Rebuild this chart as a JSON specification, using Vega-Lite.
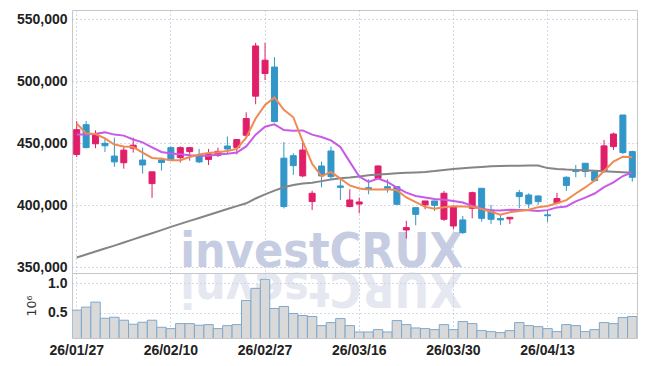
{
  "$schema": "https://vega.github.io/schema/vega-lite/v6.json",
  "background": "white",
  "padding": {"left": 15, "top": 9, "right": 9, "bottom": 4},
  "spacing": 0,
  "bounds": "flush",
  "config": {
    "view": {"stroke": "#c8c8c8"},
    "concat": {"spacing": 0},
    "axis": {
      "labelFont": "Liberation Sans",
      "labelFontSize": 14,
      "labelFontWeight": "bold",
      "labelColor": "#222222",
      "gridColor": "#aab3cc",
      "gridDash": [1, 3],
      "gridWidth": 1,
      "domain": false,
      "ticks": false
    }
  },
  "datasets": {
    "k": [
      {"d": "26/01/27", "o": 441000, "h": 468000, "l": 439000, "c": 461000, "m5": 466000, "m20": 457000, "m60": 357900, "v": 0.545},
      {"d": "26/01/28", "o": 465000, "h": 468000, "l": 446000, "c": 446500, "m5": 458000, "m20": 457000, "m60": 360300, "v": 0.597},
      {"d": "26/01/29", "o": 449600, "h": 460500, "l": 446000, "c": 457000, "m5": 457500, "m20": 457800, "m60": 362700, "v": 0.682},
      {"d": "26/01/30", "o": 450000, "h": 454500, "l": 443000, "c": 448000, "m5": 454000, "m20": 458800, "m60": 365100, "v": 0.409},
      {"d": "26/02/02", "o": 439700, "h": 454500, "l": 431000, "c": 435000, "m5": 449000, "m20": 457000, "m60": 367500, "v": 0.426},
      {"d": "26/02/03", "o": 434300, "h": 447000, "l": 429500, "c": 444500, "m5": 447500, "m20": 456200, "m60": 370000, "v": 0.375},
      {"d": "26/02/04", "o": 446000, "h": 454500, "l": 442500, "c": 448500, "m5": 447000, "m20": 453100, "m60": 372500, "v": 0.307},
      {"d": "26/02/05", "o": 436500, "h": 446500, "l": 425500, "c": 432500, "m5": 442500, "m20": 450800, "m60": 375000, "v": 0.341},
      {"d": "26/02/06", "o": 417500, "h": 427000, "l": 406000, "c": 427000, "m5": 438200, "m20": 446800, "m60": 377500, "v": 0.375},
      {"d": "26/02/09", "o": 436500, "h": 438500, "l": 428000, "c": 434500, "m5": 437500, "m20": 443000, "m60": 380000, "v": 0.256},
      {"d": "26/02/10", "o": 446500, "h": 447500, "l": 436000, "c": 437000, "m5": 436300, "m20": 441700, "m60": 382600, "v": 0.233},
      {"d": "26/02/11", "o": 438500, "h": 447500, "l": 434500, "c": 446500, "m5": 436300, "m20": 441100, "m60": 385000, "v": 0.318},
      {"d": "26/02/12", "o": 443300, "h": 446500, "l": 436000, "c": 446500, "m5": 439000, "m20": 440300, "m60": 387400, "v": 0.318},
      {"d": "26/02/13", "o": 440000, "h": 445500, "l": 434000, "c": 435000, "m5": 441000, "m20": 440000, "m60": 389800, "v": 0.290},
      {"d": "26/02/19", "o": 437000, "h": 445500, "l": 432500, "c": 441500, "m5": 442200, "m20": 440000, "m60": 392200, "v": 0.301},
      {"d": "26/02/20", "o": 440300, "h": 446500, "l": 439000, "c": 443500, "m5": 442700, "m20": 441000, "m60": 394600, "v": 0.233},
      {"d": "26/02/23", "o": 447800, "h": 455500, "l": 441500, "c": 445400, "m5": 443800, "m20": 441600, "m60": 397000, "v": 0.284},
      {"d": "26/02/24", "o": 446500, "h": 453500, "l": 441000, "c": 453000, "m5": 445500, "m20": 442500, "m60": 399300, "v": 0.301},
      {"d": "26/02/25", "o": 456500, "h": 475000, "l": 455000, "c": 470000, "m5": 454500, "m20": 447500, "m60": 401600, "v": 0.710},
      {"d": "26/02/26", "o": 488000, "h": 531000, "l": 481500, "c": 528500, "m5": 470000, "m20": 457000, "m60": 405500, "v": 0.915},
      {"d": "26/02/27", "o": 506300, "h": 531000, "l": 501000, "c": 517000, "m5": 481000, "m20": 463400, "m60": 408800, "v": 1.068},
      {"d": "26/03/03", "o": 511500, "h": 519500, "l": 467000, "c": 467500, "m5": 487000, "m20": 465300, "m60": 411800, "v": 0.574},
      {"d": "26/03/04", "o": 438000, "h": 451000, "l": 397500, "c": 399000, "m5": 477000, "m20": 460700, "m60": 414500, "v": 0.608},
      {"d": "26/03/05", "o": 440000, "h": 442000, "l": 424500, "c": 432000, "m5": 471000, "m20": 460200, "m60": 416300, "v": 0.489},
      {"d": "26/03/06", "o": 423700, "h": 451300, "l": 422600, "c": 444600, "m5": 451500, "m20": 460400, "m60": 417600, "v": 0.455},
      {"d": "26/03/09", "o": 403000, "h": 411800, "l": 396200, "c": 409700, "m5": 433500, "m20": 457000, "m60": 418200, "v": 0.438},
      {"d": "26/03/10", "o": 431700, "h": 435200, "l": 414500, "c": 423700, "m5": 423500, "m20": 455100, "m60": 419500, "v": 0.284},
      {"d": "26/03/11", "o": 443800, "h": 447300, "l": 420400, "c": 423100, "m5": 427000, "m20": 452400, "m60": 420800, "v": 0.335},
      {"d": "26/03/12", "o": 415600, "h": 422600, "l": 404300, "c": 414500, "m5": 421500, "m20": 447000, "m60": 421800, "v": 0.403},
      {"d": "26/03/13", "o": 399000, "h": 412900, "l": 398400, "c": 404300, "m5": 416000, "m20": 435000, "m60": 422400, "v": 0.284},
      {"d": "26/03/16", "o": 401000, "h": 406200, "l": 393500, "c": 402700, "m5": 413500, "m20": 423200, "m60": 423200, "v": 0.176},
      {"d": "26/03/17", "o": 414200, "h": 421000, "l": 408900, "c": 412900, "m5": 412800, "m20": 418800, "m60": 424200, "v": 0.176},
      {"d": "26/03/18", "o": 421500, "h": 432300, "l": 421000, "c": 431700, "m5": 412800, "m20": 421500, "m60": 424800, "v": 0.216},
      {"d": "26/03/19", "o": 415000, "h": 421000, "l": 410200, "c": 413700, "m5": 413000, "m20": 418800, "m60": 425300, "v": 0.176},
      {"d": "26/03/20", "o": 415000, "h": 415600, "l": 400800, "c": 400800, "m5": 412200, "m20": 414300, "m60": 425800, "v": 0.369},
      {"d": "26/03/23", "o": 380100, "h": 387400, "l": 373100, "c": 382000, "m5": 406300, "m20": 410200, "m60": 426200, "v": 0.301},
      {"d": "26/03/24", "o": 398100, "h": 398100, "l": 383900, "c": 392700, "m5": 402600, "m20": 407500, "m60": 426500, "v": 0.244},
      {"d": "26/03/25", "o": 400300, "h": 403500, "l": 396800, "c": 403500, "m5": 398700, "m20": 406200, "m60": 426900, "v": 0.233},
      {"d": "26/03/26", "o": 403500, "h": 403500, "l": 395400, "c": 400000, "m5": 397300, "m20": 405000, "m60": 427600, "v": 0.216},
      {"d": "26/03/27", "o": 388700, "h": 411600, "l": 387400, "c": 409700, "m5": 398500, "m20": 404500, "m60": 428500, "v": 0.301},
      {"d": "26/03/30", "o": 383300, "h": 400300, "l": 380600, "c": 398900, "m5": 399300, "m20": 403500, "m60": 429300, "v": 0.216},
      {"d": "26/03/31", "o": 388200, "h": 391400, "l": 376900, "c": 378000, "m5": 399000, "m20": 402200, "m60": 429800, "v": 0.352},
      {"d": "26/04/01", "o": 397600, "h": 411000, "l": 389500, "c": 410200, "m5": 398800, "m20": 399500, "m60": 430400, "v": 0.318},
      {"d": "26/04/02", "o": 413700, "h": 413700, "l": 386800, "c": 389500, "m5": 397000, "m20": 397300, "m60": 430900, "v": 0.199},
      {"d": "26/04/03", "o": 396200, "h": 400300, "l": 385000, "c": 388700, "m5": 394800, "m20": 396100, "m60": 431400, "v": 0.182},
      {"d": "26/04/06", "o": 389300, "h": 393000, "l": 384100, "c": 388200, "m5": 392500, "m20": 395800, "m60": 431600, "v": 0.165},
      {"d": "26/04/07", "o": 389000, "h": 390300, "l": 385000, "c": 390300, "m5": 394400, "m20": 396400, "m60": 431800, "v": 0.199},
      {"d": "26/04/08", "o": 410200, "h": 412400, "l": 397600, "c": 407000, "m5": 395400, "m20": 396200, "m60": 431900, "v": 0.335},
      {"d": "26/04/09", "o": 408300, "h": 409700, "l": 397600, "c": 401100, "m5": 396400, "m20": 396100, "m60": 432000, "v": 0.284},
      {"d": "26/04/10", "o": 407500, "h": 408300, "l": 400300, "c": 403000, "m5": 398500, "m20": 395400, "m60": 432100, "v": 0.267},
      {"d": "26/04/13", "o": 392300, "h": 395400, "l": 386600, "c": 391600, "m5": 399500, "m20": 396100, "m60": 430000, "v": 0.233},
      {"d": "26/04/14", "o": 402000, "h": 410000, "l": 401500, "c": 405500, "m5": 401700, "m20": 398300, "m60": 429300, "v": 0.182},
      {"d": "26/04/15", "o": 422600, "h": 423400, "l": 411600, "c": 416000, "m5": 404200, "m20": 399100, "m60": 428800, "v": 0.301},
      {"d": "26/04/16", "o": 428000, "h": 432500, "l": 422600, "c": 427200, "m5": 409500, "m20": 403200, "m60": 428500, "v": 0.284},
      {"d": "26/04/17", "o": 433900, "h": 434000, "l": 422600, "c": 427200, "m5": 414400, "m20": 406200, "m60": 428200, "v": 0.182},
      {"d": "26/04/20", "o": 427100, "h": 428000, "l": 419100, "c": 419900, "m5": 420000, "m20": 409500, "m60": 427800, "v": 0.216},
      {"d": "26/04/21", "o": 427200, "h": 452700, "l": 426400, "c": 447900, "m5": 427700, "m20": 414600, "m60": 427400, "v": 0.335},
      {"d": "26/04/22", "o": 447300, "h": 458600, "l": 444600, "c": 457500, "m5": 435200, "m20": 418500, "m60": 427000, "v": 0.318},
      {"d": "26/04/23", "o": 472800, "h": 472800, "l": 441400, "c": 442500, "m5": 439200, "m20": 423600, "m60": 426600, "v": 0.420},
      {"d": "26/04/24", "o": 443300, "h": 444100, "l": 419100, "c": 422600, "m5": 438700, "m20": 426600, "m60": 426200, "v": 0.438}
    ]
  },
  "vconcat": [
    {
      "width": 565,
      "height": 263,
      "data": {"name": "k"},
      "layer": [
        {
          "transform": [{"filter": "datum.d == '26/03/10'"}],
          "mark": {"type": "text", "text": "investCRUX", "font": "DejaVu Sans Condensed", "fontWeight": "bold", "fontSize": 48, "color": "#c6cde2", "align": "center", "baseline": "alphabetic"},
          "encoding": {
            "x": {"field": "d", "type": "ordinal", "sort": "ascending"},
            "y": {"datum": 350000, "type": "quantitative"}
          }
        },
        {
          "mark": {"type": "rule", "strokeWidth": 1},
          "encoding": {
            "x": {"field": "d", "type": "ordinal", "sort": "ascending", "scale": {"type": "band", "paddingInner": 0, "paddingOuter": 0},
                  "axis": {"values": ["26/01/27", "26/02/10", "26/02/27", "26/03/16", "26/03/30", "26/04/13"], "labels": false, "grid": true, "title": null}},
            "y": {"field": "l", "type": "quantitative", "scale": {"domain": [345400, 557500], "nice": false, "zero": false},
                  "axis": {"values": [350000, 375000, 400000, 425000, 450000, 475000, 500000, 525000, 550000], "format": ",d", "title": null, "labelPadding": 5, "grid": true}},
            "y2": {"field": "h"},
            "color": {"condition": {"test": "datum.c >= datum.o", "value": "#e11e69"}, "value": "#3296c8"}
          }
        },
        {
          "mark": {"type": "bar", "size": 6, "strokeWidth": 1},
          "encoding": {
            "x": {"field": "d", "type": "ordinal", "sort": "ascending"},
            "y": {"field": "o", "type": "quantitative"},
            "y2": {"field": "c"},
            "color": {"condition": {"test": "datum.c >= datum.o", "value": "#e11e69"}, "value": "#3296c8"},
            "stroke": {"condition": {"test": "datum.c >= datum.o", "value": "#e11e69"}, "value": "#3296c8"}
          }
        },
        {
          "mark": {"type": "line", "color": "#858585", "strokeWidth": 2},
          "encoding": {"x": {"field": "d", "type": "ordinal", "sort": "ascending"}, "y": {"field": "m60", "type": "quantitative"}}
        },
        {
          "mark": {"type": "line", "color": "#c85ae6", "strokeWidth": 2},
          "encoding": {"x": {"field": "d", "type": "ordinal", "sort": "ascending"}, "y": {"field": "m20", "type": "quantitative"}}
        },
        {
          "mark": {"type": "line", "color": "#ef8a52", "strokeWidth": 2},
          "encoding": {"x": {"field": "d", "type": "ordinal", "sort": "ascending"}, "y": {"field": "m5", "type": "quantitative"}}
        }
      ]
    },
    {
      "width": 565,
      "height": 65,
      "data": {"name": "k"},
      "layer": [
        {
          "transform": [{"filter": "datum.d == '26/03/10'"}],
          "mark": {"type": "text", "text": "XURCtsevni", "font": "DejaVu Sans Condensed", "fontWeight": "bold", "fontSize": 48, "color": "#c6cde2", "opacity": 0.45, "align": "center", "baseline": "alphabetic", "angle": 180},
          "encoding": {
            "x": {"field": "d", "type": "ordinal", "sort": "ascending"},
            "y": {"datum": 1.175, "type": "quantitative"}
          }
        },
        {
          "mark": {"type": "bar", "fill": "#d9d9d9", "stroke": "#7fa8cc", "strokeWidth": 1, "clip": true},
          "encoding": {
            "x": {"field": "d", "type": "ordinal", "sort": "ascending", "scale": {"type": "band", "paddingInner": 0, "paddingOuter": 0},
                  "axis": {"values": ["26/01/27", "26/02/10", "26/02/27", "26/03/16", "26/03/30", "26/04/13"], "labelAngle": 0, "labelAlign": "center", "labelBaseline": "top", "labelPadding": 5, "grid": true, "title": null}},
            "y": {"field": "v", "type": "quantitative", "scale": {"domain": [0.074, 1.175], "nice": false, "zero": false},
                  "axis": {"values": [0.5, 1.0], "format": ".1f", "title": "10⁶", "titleFont": "DejaVu Sans", "titleFontWeight": "normal", "titleFontSize": 12.5, "titleColor": "#333333", "titlePadding": 9, "labelPadding": 5, "grid": true}},
            "y2": {"datum": 0}
          }
        }
      ]
    }
  ]
}
